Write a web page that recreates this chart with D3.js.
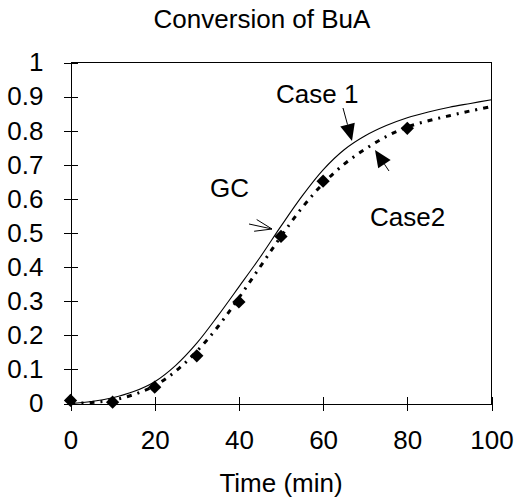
<!DOCTYPE html>
<html>
<head>
<meta charset="utf-8">
<script src="https://cdn.jsdelivr.net/npm/d3@7"></script>
<style>
  html, body { margin: 0; padding: 0; background: #fff; }
  svg { display: block; }
  text { font-family: "Liberation Sans", Arial, sans-serif; fill: #000; }
</style>
</head>
<body>
<svg id="chart" width="516" height="502"></svg>
<script>
// ---- data ----
const timeGrid = [0,5,10,15,20,25,30,35,40,45,50,55,60,65,70,75,80,85,90,95,100];
const case1 = [0,0.006,0.017,0.035,0.064,0.112,0.177,0.257,0.342,0.428,0.52,0.608,0.685,0.744,0.785,0.815,0.838,0.855,0.869,0.88,0.891];
const case2 = [0,0.003,0.01,0.026,0.052,0.095,0.153,0.225,0.31,0.4,0.49,0.574,0.645,0.702,0.746,0.783,0.811,0.829,0.844,0.858,0.871];
const gcTime = [0,10,20,30,40,50,60,80];
const gcConv = [0.009,0.004,0.048,0.14,0.298,0.49,0.652,0.807];
const xTicks = [0,20,40,60,80,100];
const yTicks = [0,0.1,0.2,0.3,0.4,0.5,0.6,0.7,0.8,0.9,1];
const titleText = "Conversion of BuA";
const xTitle = "Time (min)";

// ---- layout ----
const svg = d3.select("#chart");
const pLeft = 70.5, pRight = 491.5, pTop = 62.5, pBottom = 403.5;
const x = d3.scaleLinear().domain([0,100]).range([pLeft, pRight]);
const y = d3.scaleLinear().domain([0,1]).range([pBottom, pTop]);
const FS = 26;

// title
svg.append("text").attr("x", 262).attr("y", 28).attr("text-anchor","middle")
  .attr("font-size", FS).text(titleText);

// frame (top & right)
svg.append("path").attr("d", `M${pLeft},${pTop}H${pRight}V${pBottom}`)
  .attr("fill","none").attr("stroke","#000").attr("stroke-width",1).attr("shape-rendering","crispEdges");

// x axis with crossing ticks
const xAxis = svg.append("g").attr("transform", `translate(0,${pBottom})`)
  .call(d3.axisBottom(x).tickValues(xTicks).tickSizeInner(7).tickSizeOuter(0).tickPadding(20).tickFormat(d3.format("d")));
xAxis.selectAll(".tick line").attr("y1",-7).attr("y2",7);
xAxis.select(".domain").attr("stroke","#000").attr("shape-rendering","crispEdges");
xAxis.selectAll(".tick line").attr("stroke","#000").attr("shape-rendering","crispEdges");
xAxis.selectAll("text").attr("font-size", FS).attr("font-family",'"Liberation Sans", Arial, sans-serif').attr("fill","#000");

// y axis with crossing ticks
const yAxis = svg.append("g").attr("transform", `translate(${pLeft},0)`)
  .call(d3.axisLeft(y).tickValues(yTicks).tickSizeInner(7).tickSizeOuter(0).tickPadding(20).tickFormat(d => d === 0 || d === 1 ? String(d) : d3.format(".1f")(d)));
yAxis.selectAll(".tick line").attr("x1",-7).attr("x2",7);
yAxis.select(".domain").attr("stroke","#000").attr("shape-rendering","crispEdges");
yAxis.selectAll(".tick line").attr("stroke","#000").attr("shape-rendering","crispEdges");
yAxis.selectAll("text").attr("font-size", FS).attr("font-family",'"Liberation Sans", Arial, sans-serif').attr("fill","#000");

// x axis title
svg.append("text").attr("x", (pLeft+pRight)/2).attr("y", 492).attr("text-anchor","middle")
  .attr("font-size", FS).text(xTitle);

// curves
const line = d3.line().x(d => x(d[0])).y(d => y(d[1])).curve(d3.curveCatmullRom.alpha(0.5));
svg.append("path").datum(timeGrid.map((t,i) => [t, case1[i]]))
  .attr("d", line).attr("fill","none").attr("stroke","#000").attr("stroke-width",1.1);
svg.append("path").datum(timeGrid.map((t,i) => [t, case2[i]]))
  .attr("d", line).attr("fill","none").attr("stroke","#000").attr("stroke-width",3)
  .attr("stroke-dasharray","5,6,2,6");

// diamonds
svg.selectAll("path.gc").data(gcTime.map((t,i) => [t, gcConv[i]])).enter()
  .append("path").attr("class","gc")
  .attr("d", d3.symbol().type(d3.symbolSquare).size(88)())
  .attr("transform", d => `translate(${x(d[0])},${y(d[1])}) rotate(45)`)
  .attr("fill","#000");

// annotations
svg.append("text").attr("x", 276).attr("y", 103).attr("font-size", FS).text("Case 1");
svg.append("text").attr("x", 210).attr("y", 197).attr("font-size", FS).text("GC");
svg.append("text").attr("x", 370).attr("y", 226).attr("font-size", FS).text("Case2");

function filledArrow(x1,y1,x2,y2,len,halfW){
  const a = Math.atan2(y2-y1, x2-x1);
  const bx = x2 - len*Math.cos(a), by = y2 - len*Math.sin(a);
  svg.append("line").attr("x1",x1).attr("y1",y1).attr("x2",bx).attr("y2",by)
    .attr("stroke","#000").attr("stroke-width",1);
  const p1 = [bx + halfW*Math.sin(a), by - halfW*Math.cos(a)];
  const p2 = [bx - halfW*Math.sin(a), by + halfW*Math.cos(a)];
  svg.append("path").attr("d", `M${x2},${y2}L${p1[0]},${p1[1]}L${p2[0]},${p2[1]}Z`).attr("fill","#000");
}
function openArrow(x1,y1,x2,y2,len,halfW){
  const a = Math.atan2(y2-y1, x2-x1);
  const bx = x2 - len*Math.cos(a), by = y2 - len*Math.sin(a);
  const p1 = [bx + halfW*Math.sin(a), by - halfW*Math.cos(a)];
  const p2 = [bx - halfW*Math.sin(a), by + halfW*Math.cos(a)];
  svg.append("path").attr("d", `M${x1},${y1}L${x2},${y2}M${p1[0]},${p1[1]}L${x2},${y2}L${p2[0]},${p2[1]}`)
    .attr("fill","none").attr("stroke","#000").attr("stroke-width",1);
}
filledArrow(343, 108, 352, 141, 17, 7.5);
filledArrow(389, 171, 375, 150, 17, 7.5);
openArrow(249, 224, 272, 229, 17, 6);
</script>
</body>
</html>
